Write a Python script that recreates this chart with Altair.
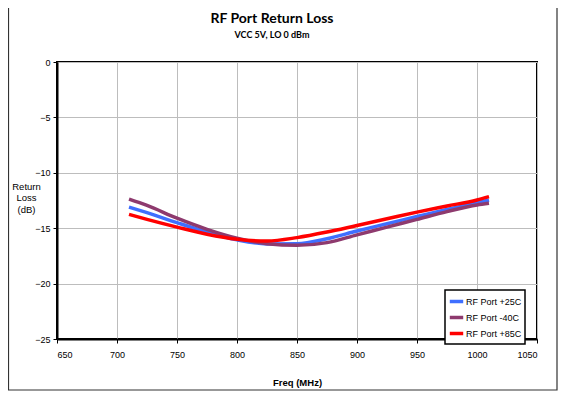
import altair as alt
import pandas as pd

freq = [710, 725, 750, 775, 800, 825, 850, 875, 900, 925, 950, 975, 1000, 1010]
rl_25 = [-13.1, -13.6, -14.5, -15.35, -16.05, -16.42, -16.4, -15.95, -15.25, -14.6, -13.95, -13.3, -12.7, -12.45]
rl_m40 = [-12.38, -12.95, -14.1, -15.1, -15.9, -16.4, -16.55, -16.3, -15.6, -14.9, -14.2, -13.5, -12.9, -12.75]
rl_85 = [-13.75, -14.2, -14.9, -15.55, -16.0, -16.15, -15.85, -15.35, -14.75, -14.15, -13.55, -13.0, -12.45, -12.15]

series = ["RF Port +25C", "RF Port -40C", "RF Port +85C"]
colors = ["#3F6FFF", "#8E3A6E", "#FF0000"]
x_ticks = [650, 700, 750, 800, 850, 900, 950, 1000, 1050]
y_ticks = [-25, -20, -15, -10, -5, 0]

rows = []
for name, vals in zip(series, [rl_25, rl_m40, rl_85]):
    for f, v in zip(freq, vals):
        rows.append({"Freq": f, "RL": v, "Series": name})
df = pd.DataFrame(rows)

W, H = 480, 277

lines = alt.Chart(df).mark_line(strokeWidth=3.5, interpolate="monotone").encode(
    x=alt.X("Freq:Q",
            scale=alt.Scale(domain=[650, 1050], nice=False, zero=False),
            axis=alt.Axis(values=x_ticks, format="d", title="Freq (MHz)", grid=True,
                          titleFontWeight="bold", titleFontSize=9.5,
                          titleFont="Liberation Sans", titlePadding=18,
                          labelFont="Liberation Sans", labelFontSize=9,
                          labelPadding=7, tickSize=4, tickColor="#000",
                          domainColor="#000", domainWidth=2)),
    y=alt.Y("RL:Q",
            scale=alt.Scale(domain=[-25, 0], nice=False, zero=False),
            axis=alt.Axis(values=y_ticks, format="d", title=["Return", "Loss", "(dB)"],
                          grid=True, titleAngle=0, titleAlign="center",
                          titleBaseline="top", titleX=-31, titleY=119,
                          titleLineHeight=11.5, titleFontWeight="normal",
                          titleFontSize=9.5, titleFont="Liberation Sans",
                          labelFont="Liberation Sans", labelFontSize=9,
                          labelPadding=3, tickSize=4, tickColor="#000",
                          domainColor="#000", domainWidth=2)),
    color=alt.Color("Series:N",
                    scale=alt.Scale(domain=series, range=colors),
                    sort=series,
                    legend=alt.Legend(orient="none", legendX=388, legendY=228,
                                      title=None, fillColor="white",
                                      strokeColor="#000",
                                      padding=3, symbolType="stroke",
                                      symbolSize=180, symbolStrokeWidth=3.5,
                                      labelFont="Liberation Sans",
                                      labelFontSize=9, labelOffset=1,
                                      rowPadding=0)),
)

frame = alt.Chart(pd.DataFrame({"a": [0]})).mark_rect(
    fill=None, stroke="#333", strokeWidth=1.2
).encode(x=alt.value(-48.5), x2=alt.value(500), y=alt.value(-80), y2=alt.value(328))

title = alt.Chart(pd.DataFrame({"t": ["RF Port Return Loss"]})).mark_text(
    font="Lato", fontSize=14, fontWeight="bold", align="center", baseline="middle"
).encode(text="t:N", x=alt.value(215), y=alt.value(-43))

subtitle = alt.Chart(pd.DataFrame({"t": ["VCC 5V, LO 0 dBm"]})).mark_text(
    font="Lato", fontSize=9, fontWeight="bold", align="center", baseline="middle"
).encode(text="t:N", x=alt.value(215), y=alt.value(-27))

chart = alt.layer(frame, lines, title, subtitle).properties(
    width=W, height=H,
    autosize=alt.AutoSizeParams(type="none"),
    padding={"left": 49, "top": 54, "right": 21, "bottom": 60},
).configure_view(stroke="#000", strokeWidth=2).configure_axis(
    gridColor="#BDBDBD", gridWidth=1
).configure_legend(strokeWidth=1.5)

chart.save("out.html", embed_options={"renderer": "svg", "actions": False})
